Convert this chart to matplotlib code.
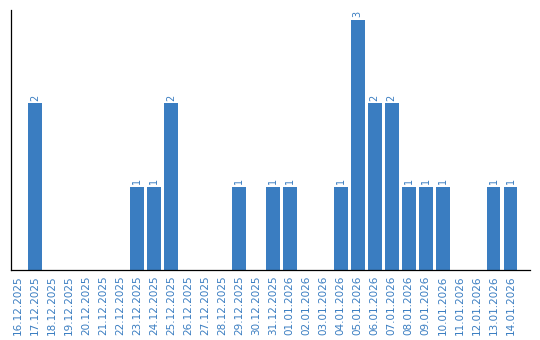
import matplotlib.pyplot as plt

dates = ['16.12.2025', '17.12.2025', '18.12.2025', '19.12.2025', '20.12.2025',
         '21.12.2025', '22.12.2025', '23.12.2025', '24.12.2025', '25.12.2025',
         '26.12.2025', '27.12.2025', '28.12.2025', '29.12.2025', '30.12.2025',
         '31.12.2025', '01.01.2026', '02.01.2026', '03.01.2026', '04.01.2026',
         '05.01.2026', '06.01.2026', '07.01.2026', '08.01.2026', '09.01.2026',
         '10.01.2026', '11.01.2026', '12.01.2026', '13.01.2026', '14.01.2026']
counts = [0, 2, 0, 0, 0, 0, 0, 1, 1, 2,
          0, 0, 0, 1, 0, 1, 1, 0, 0, 1,
          3, 2, 2, 1, 1, 1, 0, 0, 1, 1]

blue = '#3a7dc1'

fig = plt.figure(figsize=(5.4, 3.4), dpi=100)
ax = fig.add_axes([0.0195, 0.206, 0.962, 0.765])

x = range(len(dates))
ax.bar(x, counts, width=0.82, color=blue)

# etichette valore sopra le barre
for i, c in enumerate(counts):
    if c > 0:
        ax.text(i, c + 0.03, str(c), rotation=90, ha='center', va='bottom',
                color=blue, fontsize=7)

ax.set_xticks(list(x))
ax.set_xticklabels(dates, rotation=90, color=blue, fontsize=7.5)
ax.tick_params(axis='x', length=0, pad=4)
ax.set_yticks([])
ax.set_xlim(-0.45, 30.15)
ax.set_ylim(0, 3.12)
ax.spines['top'].set_visible(False)
ax.spines['right'].set_visible(False)
ax.spines['left'].set_linewidth(0.9)
ax.spines['bottom'].set_linewidth(0.9)

fig.savefig('out.png', dpi=100)
